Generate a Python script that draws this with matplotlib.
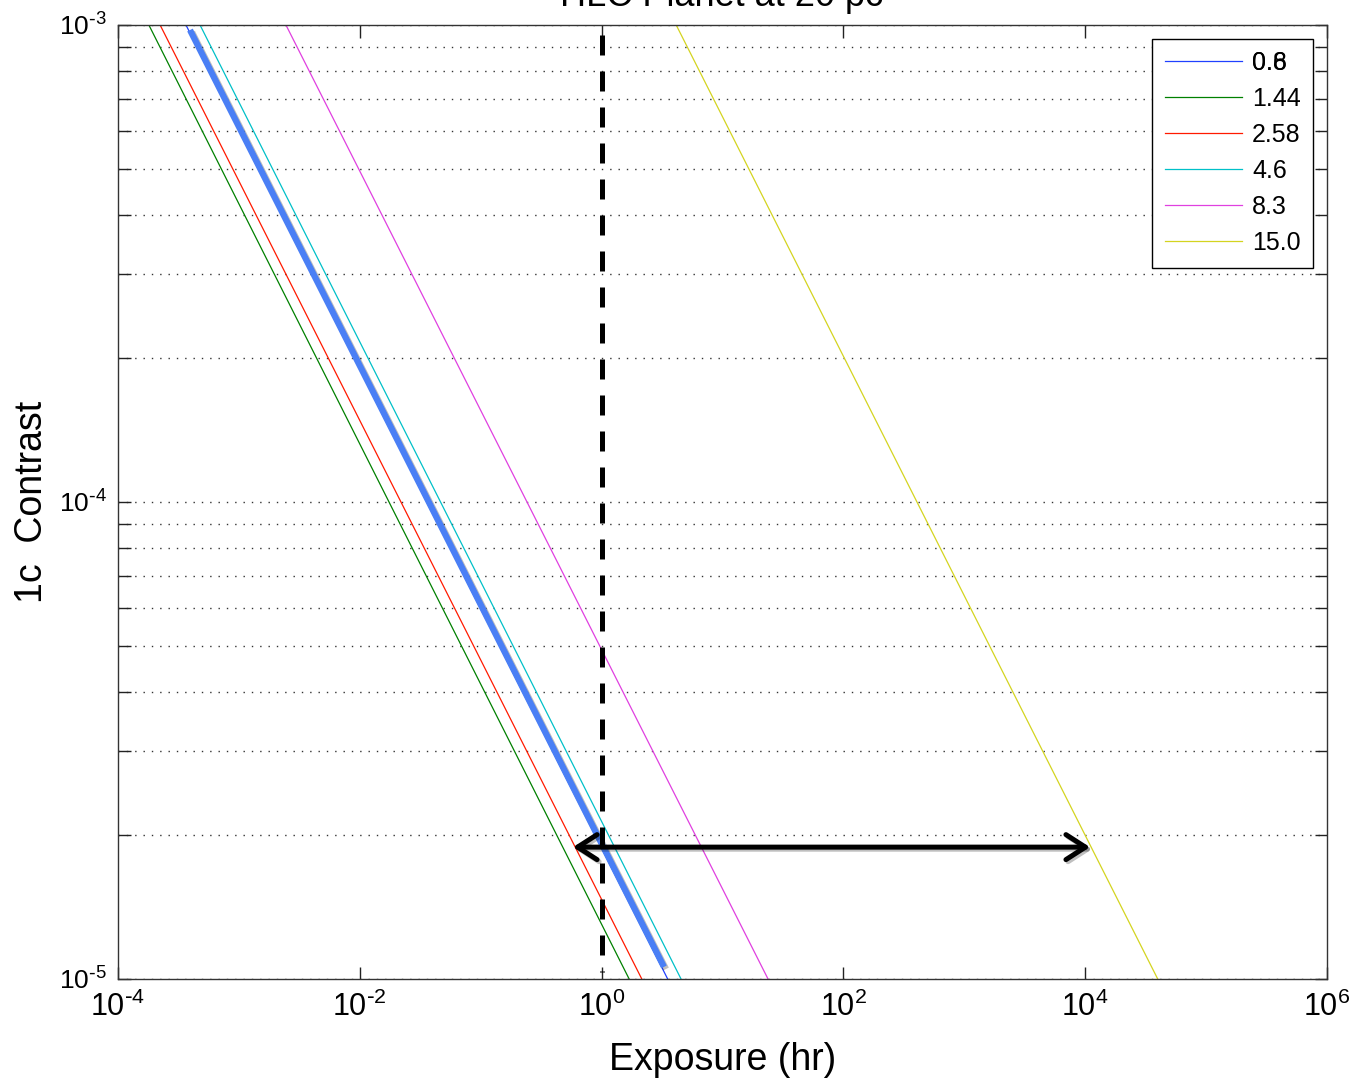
import matplotlib
matplotlib.use('Agg')
import matplotlib.pyplot as plt
import matplotlib.patheffects as pe
from matplotlib.ticker import LogLocator, FuncFormatter, NullLocator
import numpy as np

plt.rcParams['font.family'] = ['Liberation Sans', 'DejaVu Sans']
plt.rcParams['mathtext.default'] = 'regular'

# each curve is straight on log-log axes: exposure read at contrast 1e-3 and 1e-5
contrast_ends = [1e-3, 1e-5]
labels = ['0.8', '1.44', '2.58', '4.6', '8.3', '15.0']
exposure_ends = [
    [3.65e-4, 3.52],    # 0.8
    [1.80e-4, 1.69],    # 1.44
    [2.23e-4, 2.15],    # 2.58
    [4.77e-4, 4.54],    # 4.6
    [2.45e-3, 23.8],    # 8.3
    [4.14, 3.98e4],     # 15.0
]
colors = ['#2040ff', '#008000', '#ff1a00', '#00c0c8', '#e040e0', '#d4d420']

# annotations drawn over the plot
highlight_x = [3.94e-4, 3.28]
highlight_y = [9.76e-4, 1.06e-5]
limit_x = [1.0, 1.0]
limit_y = [9.53e-4, 1.035e-5]
arrow_x = [0.58, 1.096e4]
arrow_y = 1.89e-5


def pow_label(v, pos):
    e = int(round(np.log10(v)))
    sup = str(e).replace('-', r'\text{-}')
    return r'$10^{%s}$' % sup


fig = plt.figure(figsize=(13.52, 10.85), dpi=100)
ax = fig.add_axes([0.08728, 0.0977, 0.89423, 0.87926])

for xs, lab, col in zip(exposure_ends, labels, colors):
    ax.plot(xs, contrast_ends, color=col, lw=0.9, label=lab)

ax.set_xscale('log')
ax.set_yscale('log')
ax.set_xlim(1e-4, 1e6)
ax.set_ylim(1e-5, 1e-3)

ax.xaxis.set_major_locator(LogLocator(base=100))
ax.xaxis.set_major_formatter(FuncFormatter(pow_label))
ax.xaxis.set_minor_locator(NullLocator())
ax.yaxis.set_major_locator(LogLocator(base=10))
ax.yaxis.set_minor_locator(LogLocator(base=10, subs=range(2, 10)))
ax.yaxis.set_major_formatter(FuncFormatter(pow_label))

ax.tick_params(which='both', direction='in', top=True, right=True,
               length=9, width=1, color='#222222')
ax.tick_params(axis='x', labelsize=22, pad=9)
ax.tick_params(axis='y', labelsize=19, pad=8)
for s in ax.spines.values():
    s.set_linewidth(1.0)
    s.set_color('#333333')

ax.yaxis.grid(True, which='both', color='#333333', lw=1.0, linestyle=(0, (1, 5)))
ax.xaxis.grid(False)

ax.set_xlabel('Exposure (hr)', fontsize=27, labelpad=14)
ax.set_ylabel('1c  Contrast', fontsize=27)
ax.yaxis.set_label_coords(-0.056, 0.5)

leg = ax.legend(loc='upper right', fontsize=18, frameon=True, fancybox=False,
                edgecolor='black', framealpha=1, borderaxespad=0.55,
                labelspacing=0.48, handlelength=3.1, handletextpad=0.4,
                borderpad=0.5)
leg.get_frame().set_linewidth(1.0)

shadow = [pe.SimpleLineShadow(offset=(1.5, -1.5), alpha=0.25), pe.Normal()]
ax.plot(highlight_x, highlight_y, color='#4a7ff5', lw=4.5,
        solid_capstyle='butt', path_effects=shadow, zorder=4)
ax.plot(limit_x, limit_y, color='black', lw=3.6, dashes=(4, 3.2),
        dash_capstyle='butt', zorder=5)
ax.annotate('', xy=(arrow_x[0], arrow_y), xytext=(arrow_x[1], arrow_y),
            arrowprops=dict(arrowstyle='<->,head_length=0.7,head_width=0.45',
                            color='black', lw=3.6, mutation_scale=20,
                            shrinkA=0, shrinkB=0,
                            path_effects=[pe.SimpleLineShadow(offset=(1.5, -1.5), alpha=0.25), pe.Normal()]),
            zorder=6)

# title, mostly cut off by the top edge as in the original
fig.text(0.534, 1 - 6 / 1085, 'HLC Planet at 20 pc', ha='center', va='baseline',
         fontsize=26)

# overprinted legend entry
fig.canvas.draw()
bb = leg.get_texts()[0].get_window_extent()
fig.text(bb.x0, bb.y0, '0.6', transform=None, fontsize=18, ha='left', va='bottom')

fig.savefig('out.png', dpi=100)
